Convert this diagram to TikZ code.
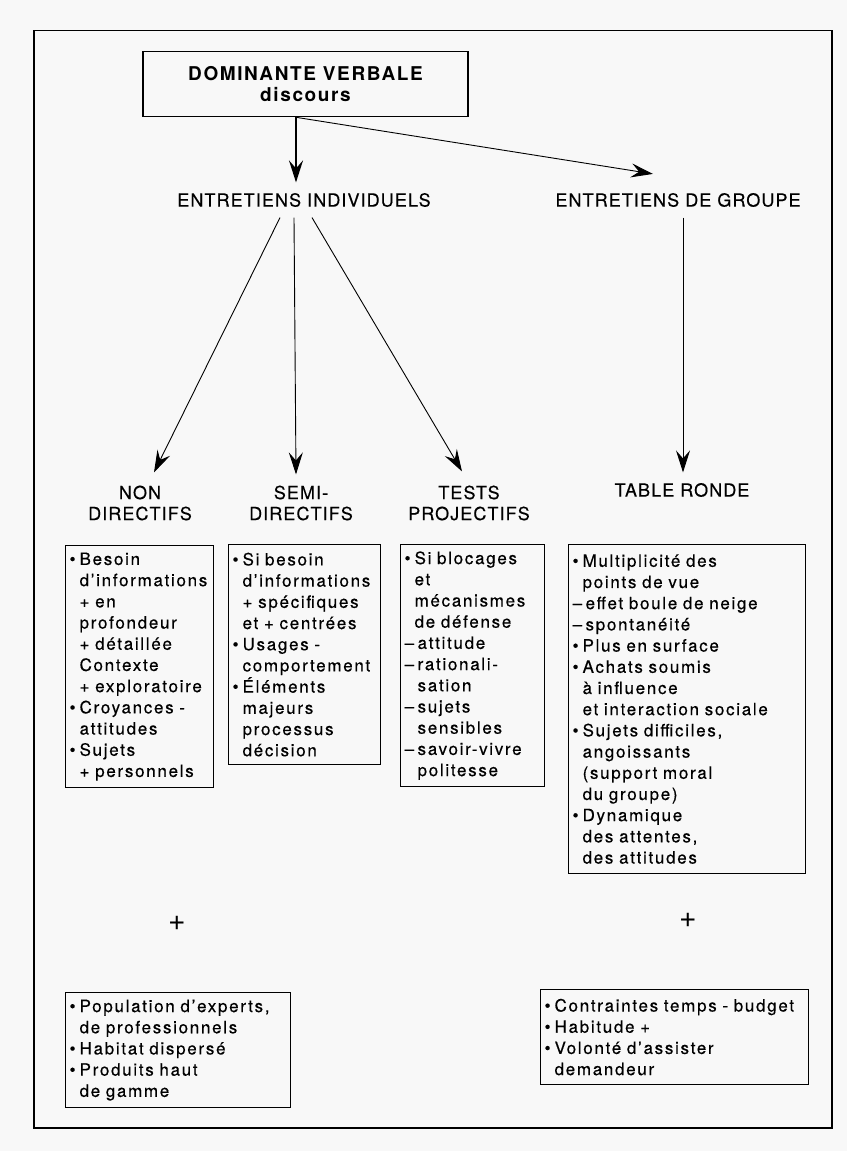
\documentclass[tikz,border=0pt]{standalone}
\usepackage{fontspec}
\setmainfont{TeX Gyre Heros}
\newfontfamily\bodyfont[LetterSpace=10,FakeBold=0.4]{TeX Gyre Heros}
\newfontfamily\headfont[LetterSpace=6,FakeBold=0.4]{TeX Gyre Heros}
\newfontfamily\titlefont[LetterSpace=8.5]{TeX Gyre Heros}
\usetikzlibrary{arrows.meta}
\definecolor{bg}{RGB}{248,248,248}
\newcommand\lbul[1]{\mbox{\makebox[10pt][l]{\textbullet}#1}}
\newcommand\ldsh[1]{\mbox{\makebox[13pt][l]{–}#1}}
\newcommand\lcnt[1]{\mbox{\hspace*{10pt}#1}}
\newcommand\ldcn[1]{\mbox{\hspace*{13pt}#1}}
\begin{document}
\begin{tikzpicture}[x=1pt,y=-1pt,
  topbox/.style={draw,line width=1.2pt,minimum width=325pt,minimum height=65pt,inner sep=0pt,align=center,font=\titlefont\bfseries\fontsize{19}{21}\selectfont},
  head/.style={inner sep=0pt,align=center,font=\headfont\fontsize{18}{21}\selectfont},
  listbox/.style={draw,line width=1.2pt,anchor=north west,align=left,inner xsep=4pt,inner ysep=0pt,font=\bodyfont\fontsize{17}{21.2}\selectfont},
  plus/.style={inner sep=0pt,font=\fontsize{30}{30}\selectfont},
  conn/.style={-{Stealth[length=22pt,width=14pt,inset=8pt]},line width=0.9pt},
  thickconn/.style={conn,line width=2.2pt},
]
\useasboundingbox (0,0) rectangle (847,1151);
\fill[bg] (0,0) rectangle (847,1151);
\draw[line width=1.5pt] (34,30.5) rectangle (832,1128);

\node[topbox] (top) at (305.5,84.2) {DOMINANTE VERBALE\\discours};
\node[head] (ei) at (304,200) {ENTRETIENS INDIVIDUELS};
\node[head] (eg) at (678,200) {ENTRETIENS DE GROUPE};
\node[head] (nd) at (140,503) {NON\\DIRECTIFS};
\node[head] (sd) at (301,503) {SEMI-\\DIRECTIFS};
\node[head] (tp) at (469,503) {TESTS\\PROJECTIFS};
\node[head] (tr) at (682,490) {TABLE RONDE};

\draw[thickconn] ([shift={(-9.5,0)}]top.south) -- ([shift={(-8,-10.5)}]ei.north);
\draw[conn] ([shift={(-9.5,0)}]top.south) -- ([shift={(-25,-19)}]eg.north);
\draw[conn] ([shift={(-24,10.5)}]ei.south) -- ([shift={(14,-13)}]nd.north);
\draw[conn] ([shift={(-10,10.5)}]ei.south) -- ([shift={(-5,-11)}]sd.north);
\draw[conn] ([shift={(8,10.5)}]ei.south) -- ([shift={(-7,-14)}]tp.north);
\draw[conn] ([shift={(5,10.5)}]eg.south) -- ([shift={(1,-10.5)}]tr.north);

\node[listbox,text width=140pt,minimum height=242pt] (b1) at (65,545) {%
\lbul{Besoin}\\
\lcnt{d’informations}\\
\lcnt{+ en}\\
\lcnt{profondeur}\\
\lcnt{+ détaillée}\\
\lcnt{Contexte}\\
\lcnt{+ exploratoire}\\
\lbul{Croyances -}\\
\lcnt{attitudes}\\
\lbul{Sujets}\\
\lcnt{+ personnels}};

\node[listbox,text width=144pt,minimum height=220pt] (b2) at (228,544) {%
\lbul{Si besoin}\\
\lcnt{d’informations}\\
\lcnt{+ spécifiques}\\
\lcnt{et + centrées}\\
\lbul{Usages -}\\
\lcnt{comportement}\\
\lbul{Éléments}\\
\lcnt{majeurs}\\
\lcnt{processus}\\
\lcnt{décision}};

\node[listbox,text width=136pt,minimum height=242pt] (b3) at (400,544) {%
\lbul{Si blocages}\\
\lcnt{et}\\
\lcnt{mécanismes}\\
\lcnt{de défense}\\
\ldsh{attitude}\\
\ldsh{rationali-}\\
\ldcn{sation}\\
\ldsh{sujets}\\
\ldcn{sensibles}\\
\ldsh{savoir-vivre}\\
\ldcn{politesse}};

\node[listbox,text width=229pt,minimum height=329pt] (b4) at (568,544) {%
\lbul{Multiplicité des}\\
\lcnt{points de vue}\\
\ldsh{effet boule de neige}\\
\ldsh{spontanéité}\\
\lbul{Plus en surface}\\
\lbul{Achats soumis}\\
\lcnt{à influence}\\
\lcnt{et interaction sociale}\\
\lbul{Sujets difficiles,}\\
\lcnt{angoissants}\\
\lcnt{(support moral}\\
\lcnt{du groupe)}\\
\lbul{Dynamique}\\
\lcnt{des attentes,}\\
\lcnt{des attitudes}};

\node[plus] (p1) at (177,923) {+};
\node[plus] (p2) at (688,920) {+};

\node[listbox,text width=217pt,minimum height=115pt] (c1) at (65,992) {%
\lbul{Population d’experts,}\\
\lcnt{de professionnels}\\
\lbul{Habitat dispersé}\\
\lbul{Produits haut}\\
\lcnt{de gamme}};

\node[listbox,text width=260pt,minimum height=95pt] (c2) at (540,989) {%
\lbul{Contraintes temps - budget}\\
\lbul{Habitude +}\\
\lbul{Volonté d’assister}\\
\lcnt{demandeur}};
\end{tikzpicture}
\end{document}
